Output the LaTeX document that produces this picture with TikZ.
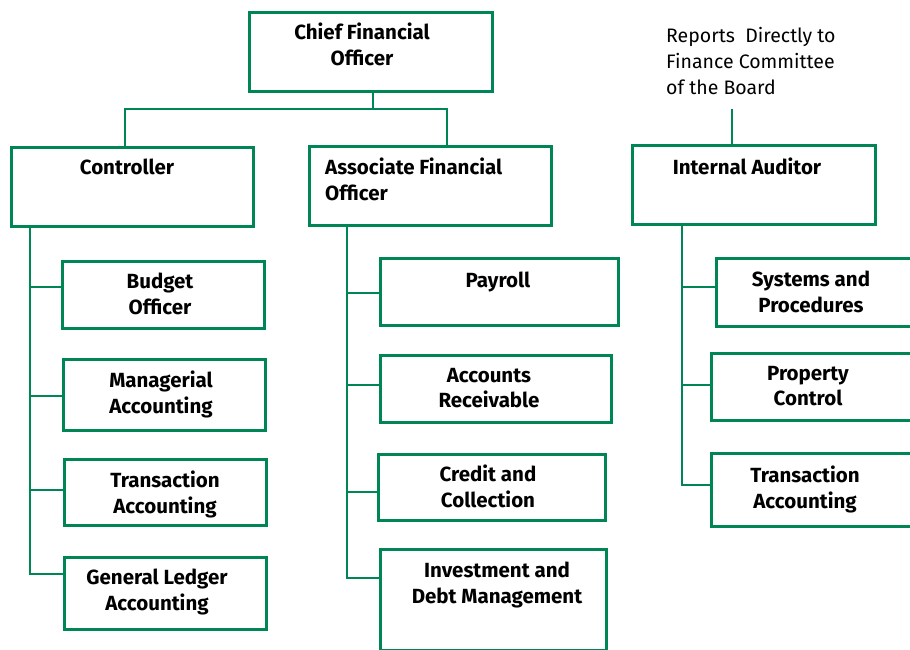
\documentclass[tikz,border=0pt]{standalone}
\usepackage{fontspec}
\setmainfont{Fira Sans}
\usepackage{tikz}
\usetikzlibrary{positioning}
\definecolor{dkgreen}{RGB}{0, 133, 84}

\begin{document}
\begin{tikzpicture}[
   x=1pt, y=-1pt,
   unit/.style={rectangle, draw=dkgreen, line width=2.6, fill=white, inner sep=0},
   unittext/.style={anchor=north, yshift=9, inner sep=0, align=center,
                    font=\bfseries\fontsize{20.5}{25.5}\selectfont},
   note/.style={anchor=north west, yshift=9, inner sep=0, align=left,
                font=\fontsize{19.5}{26}\selectfont},
   link/.style={draw=dkgreen, line width=1.6}
  ]

  \useasboundingbox (0, 0) rectangle (910, 649);

  % Top level
  \node (cfo) at (371, 52) [unit, minimum width=243, minimum height=79] {};
  \node (cfo-t) at (362, 32) [unittext] {Chief Financial\\Officer};

  \node (ctrl) at (132.5, 187) [unit, minimum width=242, minimum height=79] {};
  \node (ctrl-t) at (127, 168) [unittext] {Controller};

  \node (afo) at (430.5, 186) [unit, minimum width=242, minimum height=79] {};
  \node (afo-t) at (325, 167) [unittext, anchor=north west, align=left] {Associate Financial\\Officer};

  \node (ia) at (754, 185) [unit, minimum width=243, minimum height=79] {};
  \node (ia-t) at (747, 167) [unittext] {Internal Auditor};

  \node (board) at (666, 36) [note] {Reports~ Directly to\\Finance Committee\\of the Board};
  \coordinate (ia-feed) at (732, 109);

  % Controller units
  \node (bud) at (163.5, 295) [unit, minimum width=202, minimum height=67] {};
  \node (bud-t) at (160, 282) [unittext] {Budget\\Officer};
  \node (mgr) at (164.5, 395) [unit, minimum width=202, minimum height=71] {};
  \node (mgr-t) at (161, 380) [unittext] {Managerial\\Accounting};
  \node (trc) at (165.5, 492.5) [unit, minimum width=202, minimum height=66] {};
  \node (trc-t) at (165, 480) [unittext] {Transaction\\Accounting};
  \node (gl) at (165.5, 593.5) [unit, minimum width=202, minimum height=72] {};
  \node (gl-t) at (157, 578) [unittext] {General Ledger\\Accounting};

  % Associate Financial Officer units
  \node (pay) at (499.5, 292) [unit, minimum width=238, minimum height=67] {};
  \node (pay-t) at (498, 281) [unittext] {Payroll};
  \node (ar) at (496, 389) [unit, minimum width=231, minimum height=67] {};
  \node (ar-t) at (489, 377) [unittext] {Accounts\\Receivable};
  \node (cc) at (492, 487.5) [unit, minimum width=227, minimum height=66] {};
  \node (cc-t) at (488, 474) [unittext] {Credit and\\Collection};
  \node (inv) at (493.5, 600) [unit, minimum width=226, minimum height=101] {};
  \node (inv-t) at (497, 571) [unittext] {Investment and\\Debt Management};

  % Internal Auditor units
  \node (sys) at (817.5, 292.5) [unit, minimum width=202, minimum height=68] {};
  \node (sys-t) at (811, 280) [unittext] {Systems and\\Procedures};
  \node (prop) at (812.5, 387) [unit, minimum width=202, minimum height=67] {};
  \node (prop-t) at (808, 375) [unittext] {Property\\Control};
  \node (tia) at (812.5, 490) [unit, minimum width=202, minimum height=73] {};
  \node (tia-t) at (805, 475) [unittext] {Transaction\\Accounting};

  % Links
  \coordinate (bus) at (373, 109);
  \draw[link] (cfo.south -| bus) -- (bus);
  \draw[link] ([xshift=-7.5]ctrl.north) |- (bus) -| ([xshift=16.5]afo.north);
  \draw[link] (ia-feed) -- (ia-feed |- ia.north);

  \coordinate (ctrl-spine) at ([xshift=20]ctrl.south west);
  \coordinate (afo-spine) at ([xshift=39]afo.south west);
  \coordinate (ia-spine) at ([xshift=51]ia.south west);

  \draw[link] (ctrl-spine) |- ([yshift=19.5]gl.west);
  \draw[link] (afo-spine) |- ([yshift=22]inv.west);
  \draw[link] (ia-spine) |- ([yshift=5]tia.west);

  \foreach \n/\s/\dy in {bud/ctrl/8, mgr/ctrl/-1, trc/ctrl/2.5,
                         pay/afo/-1, ar/afo/4, cc/afo/-4.5,
                         sys/ia/5.5, prop/ia/2} {
    \draw[link] ([yshift=\dy]\n.west) -- ([yshift=\dy]\n.west -| \s-spine);
  }

\end{tikzpicture}
\end{document}
